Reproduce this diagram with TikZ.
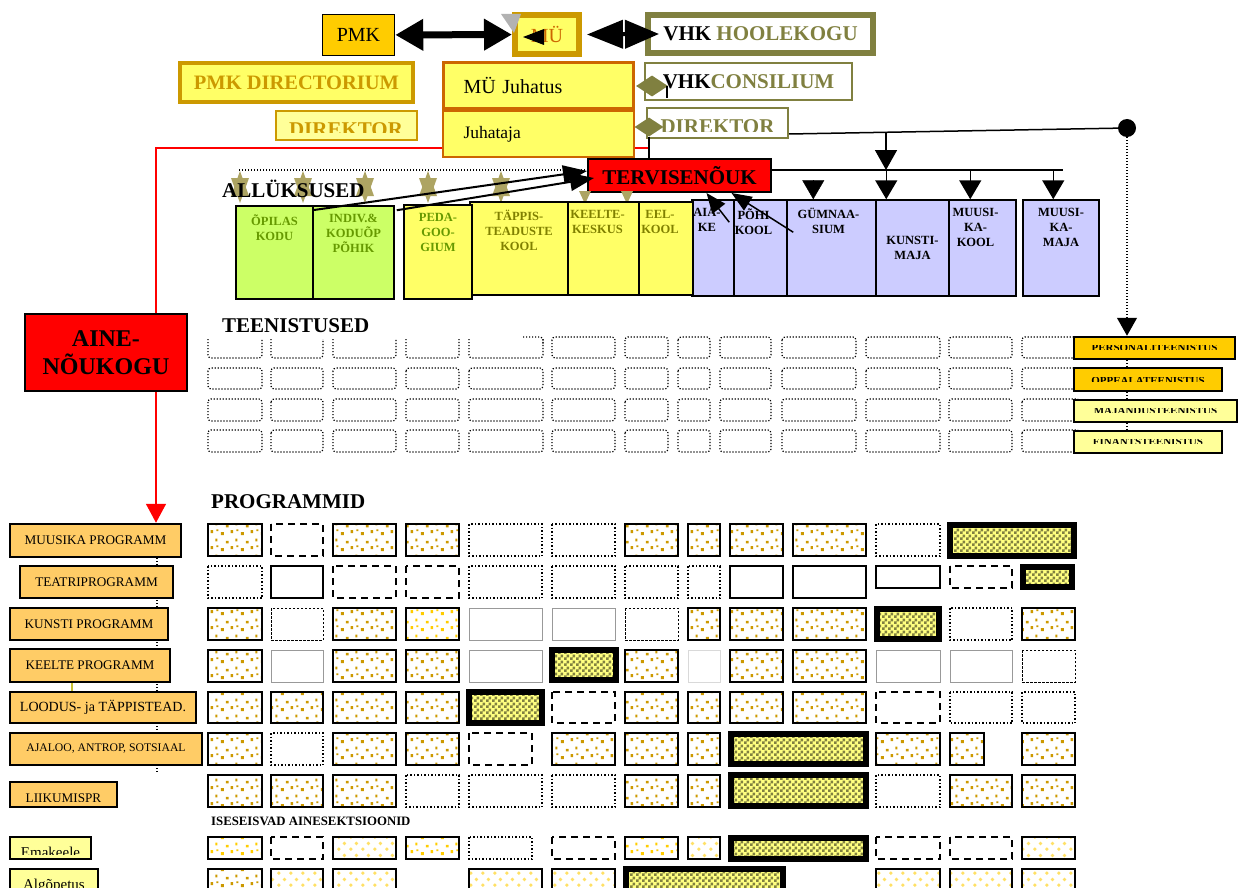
\documentclass[tikz,border=0pt]{standalone}
\usepackage{fontspec}
\setmainfont{Liberation Serif}
\usetikzlibrary{arrows.meta,patterns,shapes.geometric,calc}

\definecolor{gold}{HTML}{FFCC00}
\definecolor{darkgold}{HTML}{CC9900}
\definecolor{paleyellow}{HTML}{FFFF66}
\definecolor{lightyellow}{HTML}{FFFF99}
\definecolor{rust}{HTML}{CC6600}
\definecolor{olivegray}{HTML}{808040}
\definecolor{khaki}{HTML}{ADA463}
\definecolor{unitgreen}{HTML}{CCFF66}
\definecolor{unitblue}{HTML}{CCCCFF}
\definecolor{textgreen}{HTML}{669900}
\definecolor{textolive}{HTML}{808000}
\definecolor{progorange}{HTML}{FFCC66}
\definecolor{softyellow}{HTML}{FFE066}
\definecolor{chklight}{HTML}{FFFF80}

\newcommand{\fsz}[2]{\fontsize{#1}{#2}\selectfont}

\pgfdeclarelayer{bg}
\pgfsetlayers{bg,main}

\pgfdeclarepatternformonly{golddots}{\pgfpointorigin}{\pgfqpoint{20pt}{16pt}}{\pgfqpoint{20pt}{16pt}}{%
	\pgfpathrectangle{\pgfqpoint{1pt}{1pt}}{\pgfqpoint{3pt}{3pt}}%
	\pgfpathrectangle{\pgfqpoint{11pt}{3pt}}{\pgfqpoint{2.5pt}{3pt}}%
	\pgfpathrectangle{\pgfqpoint{6pt}{9pt}}{\pgfqpoint{3pt}{2.5pt}}%
	\pgfpathrectangle{\pgfqpoint{16pt}{11pt}}{\pgfqpoint{2pt}{3pt}}%
	\pgfpathrectangle{\pgfqpoint{17pt}{5pt}}{\pgfqpoint{2pt}{2pt}}%
	\pgfusepath{fill}}
\pgfdeclarepatternformonly{softdots}{\pgfpointorigin}{\pgfqpoint{12pt}{12pt}}{\pgfqpoint{12pt}{12pt}}{%
	\pgfpathcircle{\pgfqpoint{3pt}{3pt}}{2pt}%
	\pgfpathcircle{\pgfqpoint{9pt}{9pt}}{2pt}%
	\pgfusepath{fill}}
\pgfdeclarepatternformonly{chk}{\pgfpointorigin}{\pgfqpoint{6pt}{6pt}}{\pgfqpoint{6pt}{6pt}}{%
	\pgfpathrectangle{\pgfpointorigin}{\pgfqpoint{3pt}{3pt}}%
	\pgfpathrectangle{\pgfqpoint{3pt}{3pt}}{\pgfqpoint{3pt}{3pt}}%
	\pgfusepath{fill}}

\tikzset{
	box/.style={draw, rectangle, inner sep=0pt, align=center},
	unit/.style={box, line width=1.5pt},
	ulab/.style={anchor=north, inner sep=0pt, yshift=-9pt, align=center, font=\bfseries\fsz{12.5}{15}},
	prog/.style={box, line width=2.5pt, fill=progorange, font=\fsz{13.2}{16}},
	serv/.style={box, line width=2.5pt},
	dotline/.style={line width=1.2pt, dash pattern=on 1.2pt off 1.8pt},
	tcell/.style={dotline, rounded corners=3pt},
	cdots/.style={draw, line width=1.5pt, pattern=golddots, pattern color=darkgold},
	cdotsk/.style={cdots, line width=2.5pt},
	cyel/.style={draw, line width=2.5pt, pattern=golddots, pattern color=gold},
	csoft/.style={draw, line width=2pt, pattern=softdots, pattern color=softyellow},
	csolid/.style={draw, line width=2.5pt},
	cdash/.style={draw, line width=2pt, dash pattern=on 7pt off 5pt},
	cdot/.style={draw, line width=1.5pt, dash pattern=on 1.5pt off 2pt},
	cfine/.style={draw, line width=1pt, dash pattern=on 2.5pt off 1.5pt},
	cgray/.style={draw=black!40, line width=1pt},
	cfaint/.style={draw=black!15, line width=1pt},
	cchk/.style={draw, line width=6pt, preaction={fill=chklight}, pattern=chk, pattern color=olivegray},
	cut/.style n args={4}{path picture={
		\clip (path picture bounding box.north west) rectangle ([yshift=#4]path picture bounding box.south east);
		\node[anchor=base, inner sep=0pt, #2] at ([yshift=#3]path picture bounding box.south) {#1};}},
	slice/.style={path picture={
		\clip ([yshift=2.5pt]path picture bounding box.west) rectangle ([yshift=-1.5pt]path picture bounding box.east);
		\node[inner sep=0pt, font=\bfseries\fsz{11}{11}] at (path picture bounding box.center) {#1};}},
}

\begin{document}
\begin{tikzpicture}[x=1pt,y=-1pt]
	\useasboundingbox (0,0) rectangle (1239,888);
	\clip (0,0) rectangle (1239,888);

	\node[box, fill=gold, line width=1.5pt, minimum width=72pt, minimum height=41pt, font=\fsz{20}{20}] (pmk) at (358.5,35) {PMK};
	\node[box, draw=darkgold, fill=paleyellow, line width=6pt, minimum width=64pt, minimum height=39pt, text=rust, font=\fsz{20}{20}] (mu) at (547,34.5) {MÜ};
	\node[box, draw=olivegray, line width=6pt, minimum width=225pt, minimum height=38pt, font=\bfseries\fsz{21}{21}] (hoolekogu) at (760.5,34) {VHK \textcolor{olivegray}{HOOLEKOGU}};
	\node[box, draw=darkgold, fill=paleyellow, line width=4pt, minimum width=233pt, minimum height=39pt, text=darkgold, font=\bfseries\fsz{20.5}{20.5}] (directorium) at (296.5,82.5) {PMK DIRECTORIUM};
	\node[box, draw=rust, fill=paleyellow, line width=2pt, minimum width=191pt, minimum height=46pt, text width=150pt, align=left, font=\fsz{17.5}{17.5}] (juhataja) at (538.5,134) {Juhataja};
	\node[box, draw=rust, fill=paleyellow, line width=3pt, minimum width=190pt, minimum height=46pt, text width=150pt, align=left, font=\fsz{20}{20}] (juhatus) at (538.5,85.5) {MÜ Juhatus};
	\node[box, draw=olivegray, line width=2pt, minimum width=207pt, minimum height=37pt, font=\bfseries\fsz{21}{21}] (consilium) at (748.5,81.5) {VHK\textcolor{olivegray}{CONSILIUM}};
	\node[box, draw=darkgold, fill=lightyellow, line width=2pt, minimum width=141pt, minimum height=29pt, cut={DIREKTOR}{text=darkgold, font=\bfseries\fsz{21}{21}}{4pt}{7pt}] (dirL) at (346,125.5) {};
	\node[box, draw=olivegray, line width=2pt, minimum width=141pt, minimum height=30pt, cut={DIREKTOR}{text=olivegray, font=\bfseries\fsz{21}{21}}{4pt}{6pt}] (dirR) at (717.5,123) {};
	\node[diamond, fill=olivegray, inner sep=0pt, minimum width=32pt, minimum height=21pt] (dia1) at (652,86) {};
	\node[diamond, fill=olivegray, inner sep=0pt, minimum width=29pt, minimum height=19pt] (dia2) at (649,127) {};
	\node[box, fill=red, line width=2pt, minimum width=183pt, minimum height=33pt, font=\bfseries\fsz{21}{21}] (tervis) at (679.5,175.5) {TERVISENÕUK};
	\node[circle, fill, inner sep=0pt, minimum size=18pt] (hub) at (1127,128) {};

	\draw[line width=7pt, {Triangle[length=28pt,width=30pt]}-{Triangle[length=28pt,width=30pt]}] (pmk) -- (mu);
	\fill ([xshift=11pt,yshift=-2.5pt]mu.west) -- ++(21,-8) -- ++(0,16) -- cycle;
	\fill[black!30] (501,14) -- (521,14) -- (514,33) -- cycle;
	\draw[line width=4pt, {Triangle[length=36pt,width=28pt]}-{Triangle[length=34pt,width=28pt]}] ([xshift=5pt]mu.east) -- ([xshift=14pt]hoolekogu.west);
	\draw[line width=1.5pt] ([xshift=-1pt]dia1.east) -- ++(0,12);

	\coordinate (dotL) at (239,170);
	\draw[dotline] (dotL) -- ([yshift=5.5pt]tervis.west);
	\foreach \x in {240,303,365,428,501} {
		\fill[khaki] (\x-9,196) -- (\x,171) -- (\x+9,196) -- cycle;
		\fill[khaki] (\x-9,178) -- (\x,203) -- (\x+9,178) -- cycle;}
	\foreach \x in {585,627}
		\fill[khaki] (\x-6,191) -- (\x+6,191) -- (\x,204) -- cycle;
	\node[anchor=base west, inner sep=0pt, font=\bfseries\fsz{21}{21}] (allyk) at (222,197) {ALLÜKSUSED};

	\node[unit, fill=unitblue, minimum width=42pt, minimum height=96pt, label={[ulab, xshift=-6pt]north:AIA-\\KE}] (aia) at (713,248) {};
	\node[unit, fill=unitgreen, minimum width=77pt, minimum height=93pt, label={[ulab, text=textgreen]north:ÕPILAS\\KODU}] (opilas) at (274.5,252.5) {};
	\node[unit, fill=unitgreen, minimum width=81pt, minimum height=93pt, label={[ulab, text=textgreen]north:INDIV.\&\\KODUÕP\\PÕHIK}] (indiv) at (353.5,252.5) {};
	\node[unit, fill=paleyellow, minimum width=98pt, minimum height=93pt, label={[ulab, text=textolive]north:TÄPPIS-\\TEADUSTE\\KOOL}] (tapp) at (519,248.5) {};
	\node[unit, fill=paleyellow, minimum width=68pt, minimum height=94pt, label={[ulab, text=textgreen]north:PEDA-\\GOO-\\GIUM}] (peda) at (438,252) {};
	\node[unit, fill=paleyellow, minimum width=71pt, minimum height=93pt, label={[ulab, text=textolive, xshift=-6pt]north:KEELTE-\\KESKUS}] (keel) at (603.5,248.5) {};
	\node[unit, fill=paleyellow, minimum width=54pt, minimum height=93pt, label={[ulab, text=textolive, xshift=-6pt]north:EEL-\\KOOL}] (eel) at (666,248.5) {};
	\node[unit, fill=unitblue, minimum width=53pt, minimum height=96pt, label={[ulab, xshift=-7pt]north:PÕHI\\KOOL}] (pohi) at (760.5,248) {};
	\node[unit, fill=unitblue, minimum width=89pt, minimum height=96pt, label={[ulab, xshift=-3pt]north:GÜMNAA-\\SIUM}] (gym) at (831.5,248) {};
	\node[unit, fill=unitblue, minimum width=73pt, minimum height=96pt, font=\bfseries\fsz{12.5}{15}] (kunsti) at (912.5,248) {KUNSTI-\\MAJA};
	\node[unit, fill=unitblue, minimum width=67pt, minimum height=96pt, label={[ulab, xshift=-7pt]north:MUUSI-\\KA-\\KOOL}] (mkool) at (982.5,248) {};
	\node[unit, fill=unitblue, minimum width=76pt, minimum height=96pt, label={[ulab]north:MUUSI-\\KA-\\MAJA}] (mmaja) at (1061,248) {};

	\draw[line width=2pt, -{Triangle[length=24pt,width=18pt]}] ($(indiv.north west)+(0,5)$) -- ([yshift=4.5pt]tervis.west);
	\draw[line width=2pt, -{Triangle[length=24pt,width=18pt]}] ($(indiv.north east)+(2,5)$) -- ($(tervis.west)+(7,2.5)$);
	\draw[line width=1.5pt, -{Triangle[length=20pt,width=16pt]}] ($(pohi.north west)+(-4,23)$) -- ([xshift=27pt]tervis.south);
	\draw[line width=1.5pt, -{Triangle[length=20pt,width=16pt]}] ($(gym.north west)+(7,33)$) -- ([xshift=52pt]tervis.south);

	\coordinate (tap) at (886,132);
	\coordinate (barL) at ([yshift=5.5pt]tervis.east);
	\coordinate (barR) at (1063,170);
	\draw[line width=1.5pt] ([yshift=-11pt]dirR.east) -- (hub);
	\draw[line width=1.5pt, -{Triangle[length=20pt,width=22pt]}] (tap) -- (tap |- barL);
	\draw[line width=1.5pt] (barL) -- (barR);
	\foreach \n/\d in {kunsti/11, mkool/22, mmaja/31}
		\draw[line width=1.5pt, -{Triangle[length=19pt,width=22pt]}] ($(\n.north west)+(\d,-30)$) -- ($(\n.north west)+(\d,0)$);
	\draw[-{Triangle[length=19pt,width=22pt]}] ($(gym.north west)+(27,-19)$) -- ($(gym.north west)+(27,0)$);
	\draw[line width=1.5pt] (dia2.south) -- (dia2.south |- tervis.north);

	\node[anchor=base west, inner sep=0pt, font=\bfseries\fsz{21}{21}] (teen) at (222,332) {TEENISTUSED};
	\node[box, fill=red, line width=2pt, minimum width=162pt, minimum height=77pt, font=\bfseries\fsz{24}{28}] (aine) at (106,352.5) {AINE-\\NÕUKOGU};

	\foreach \a/\b in {208/262, 271/323, 333/396, 406/459, 469/543, 552/615, 625/668, 678/710, 720/771, 782/856, 866/940, 949/1012, 1022/1080}
		\foreach \ya/\yb in {368/389, 399/421, 430/452}
			\draw[tcell] (\a,\ya) rectangle (\b,\yb);
	\foreach \a/\b in {552/615, 625/668, 678/710, 720/771, 782/856, 866/940, 949/1012, 1022/1080}
		\draw[tcell] (\a,337) rectangle (\b,358);
	\foreach \a/\b in {208/262, 271/323, 333/396, 406/459, 469/543}
		\draw[tcell] (\a,339) -- (\a,358) -- (\b,358) -- (\b,339);
	\draw[tcell] (523,337) -- (543,337) -- (543,345);

	\node[serv, fill=gold, minimum width=161pt, minimum height=22pt, slice=PERSONALITEENISTUS] (t1) at (1154.5,348) {};
	\node[serv, fill=gold, minimum width=148pt, minimum height=23pt, slice=ÕPPEALATEENISTUS] (t2) at (1148,379.5) {};
	\node[serv, fill=lightyellow, minimum width=163pt, minimum height=22pt, slice=MAJANDUSTEENISTUS] (t3) at (1155.5,411) {};
	\node[serv, fill=lightyellow, minimum width=148pt, minimum height=22pt, slice=FINANTSTEENISTUS] (t4) at (1148,442) {};
	\draw[dotline, -{Triangle[length=18pt,width=20pt]}] (hub) -- (hub |- t1.north);
	\foreach \a/\b in {t1/t2, t2/t3, t3/t4}
		\draw[dotline] (hub |- \a.south) -- (hub |- \b.north);

	\node[anchor=base west, inner sep=0pt, font=\bfseries\fsz{21}{21}] (progs) at (211,508) {PROGRAMMID};
	\node[prog, minimum width=171pt, minimum height=33pt] (pmuusika) at (95.5,540.5) {MUUSIKA PROGRAMM};
	\node[prog, minimum width=153pt, minimum height=32pt] (pteatri) at (96.5,582) {TEATRIPROGRAMM};
	\node[prog, minimum width=158pt, minimum height=32pt] (pkunsti) at (89,624) {KUNSTI PROGRAMM};
	\node[prog, minimum width=160pt, minimum height=33pt] (pkeelte) at (90,665.5) {KEELTE PROGRAMM};
	\node[prog, minimum width=186pt, minimum height=31pt, font=\fsz{14}{16}] (ploodus) at (103,707.5) {LOODUS- ja TÄPPISTEAD.};
	\node[prog, minimum width=192pt, minimum height=32pt, font=\fsz{11.7}{14}] (pajaloo) at (106,749) {AJALOO, ANTROP, SOTSIAAL};
	\node[prog, minimum width=107pt, minimum height=25pt, cut={LIIKUMISPR}{font=\fsz{13.2}{16}}{5pt}{6pt}] (pliikum) at (63.5,794.5) {};
	\node[anchor=base west, inner sep=0pt, font=\bfseries\fsz{12.8}{14}] (sekts) at (211,825) {ISESEISVAD AINESEKTSIOONID};
	\node[prog, fill=lightyellow, line width=2pt, minimum width=81pt, minimum height=22pt, cut={Emakeele}{font=\fsz{15}{16}}{2pt}{5pt}] (pemak) at (50.5,848) {};
	\node[prog, fill=lightyellow, line width=2pt, minimum width=88pt, minimum height=36pt, cut={Algõpetus}{font=\fsz{15}{16}}{16pt}{0pt}] (palgo) at (54,887) {};

	\coordinate (redc) at (156,148);
	\coordinate (dotend) at (157,773);
	\begin{pgfonlayer}{bg}
		\draw[red, line width=1.5pt, -{Triangle[length=19pt,width=20pt]}] (dia2.south |- redc) -- (redc) -- (redc |- pmuusika.north);
		\draw[dotline] (pmuusika.south -| dotend) -- (dotend);
	\end{pgfonlayer}
	\draw[yellow!75!black, line width=1.5pt] ($(pkeelte.south west)+(63,0)$) -- ($(ploodus.north west)+(63,0)$);

	\foreach \a/\b/\s in {208/262/cdots, 271/323/cdash, 333/396/cdots, 406/459/cdots, 469/542/cdot, 552/615/cdot, 625/678/cdotsk, 688/720/cdotsk, 730/783/cdotsk, 793/866/cdotsk, 876/940/cdot}
		\draw[\s] (\a,524) rectangle (\b,556);
	\draw[cchk] (950,525) rectangle (1074,556);
	\foreach \a/\b/\s in {208/262/cdot, 271/323/csolid, 333/396/cdash, 406/459/cdash, 469/542/cdot, 552/615/cdot, 625/678/cdot, 688/720/cdot, 730/783/csolid, 793/866/csolid}
		\draw[\s] (\a,566) rectangle (\b,598);
	\draw[csolid] (876,566) rectangle (940,588);
	\draw[cdash] (950,566) rectangle (1012,588);
	\draw[cchk] (1023,567) rectangle (1072,587);
	\foreach \a/\b/\s in {208/262/cdots, 271/323/cfine, 333/396/cdots, 406/459/cyel, 469/542/cgray, 552/615/cgray, 625/678/cfine, 688/720/cdots, 730/783/cdots, 793/866/cdots, 950/1012/cdot, 1022/1075/cdots}
		\draw[\s] (\a,608) rectangle (\b,640);
	\draw[cchk] (877,609) rectangle (939,639);
	\foreach \a/\b/\s in {208/262/cdotsk, 271/323/cgray, 333/396/cdots, 406/459/cdotsk, 469/542/cgray, 625/678/cdots, 688/720/cfaint, 730/783/cdotsk, 793/866/cdots, 876/940/cgray, 950/1012/cgray, 1022/1075/cfine}
		\draw[\s] (\a,650) rectangle (\b,682);
	\draw[cchk] (552,650) rectangle (616,680);
	\foreach \a/\b/\s in {208/262/cdots, 271/323/cdots, 333/396/cdots, 406/459/cdotsk, 552/615/cdash, 625/678/cdotsk, 688/720/cdotsk, 730/783/cdots, 793/866/cdotsk, 876/940/cdash, 950/1012/cdot, 1022/1075/cdot}
		\draw[\s] (\a,692) rectangle (\b,723);
	\draw[cchk] (469,692) rectangle (542,723);
	\foreach \a/\b/\s in {208/262/cdotsk, 271/323/cdot, 333/396/cdotsk, 406/459/cdotsk, 469/532/cdash, 552/615/cdots, 625/678/cdotsk, 688/720/cdotsk, 876/940/cdots, 950/984/cdotsk, 1022/1075/cdots}
		\draw[\s] (\a,733) rectangle (\b,765);
	\draw[cchk] (731,734) rectangle (866,764);
	\foreach \a/\b/\s in {208/262/cdotsk, 271/323/cdotsk, 333/396/cdotsk, 406/459/cdot, 469/542/cdot, 552/615/cdot, 625/678/cdotsk, 688/720/cdots, 876/940/cdot, 950/1012/cdotsk, 1022/1075/cdots}
		\draw[\s] (\a,775) rectangle (\b,807);
	\draw[cchk] (731,775) rectangle (866,806);
	\foreach \a/\b/\s in {208/262/cyel, 271/323/cdash, 333/396/csoft, 406/459/cyel, 469/532/cdot, 552/615/cdash, 625/678/cyel, 688/720/csoft, 876/940/cdash, 950/1012/cdash, 1022/1075/csoft}
		\draw[\s] (\a,837) rectangle (\b,859);
	\draw[cchk] (731,838) rectangle (866,859);
	\foreach \a/\b/\s in {208/262/cdotsk, 271/323/csoft, 333/396/csoft, 469/542/csoft, 552/615/csoft, 876/940/csoft, 950/1012/csoft, 1022/1075/csoft}
		\draw[\s] (\a,869) rectangle (\b,900);
	\draw[cchk] (626,869) rectangle (783,900);
\end{tikzpicture}
\end{document}
